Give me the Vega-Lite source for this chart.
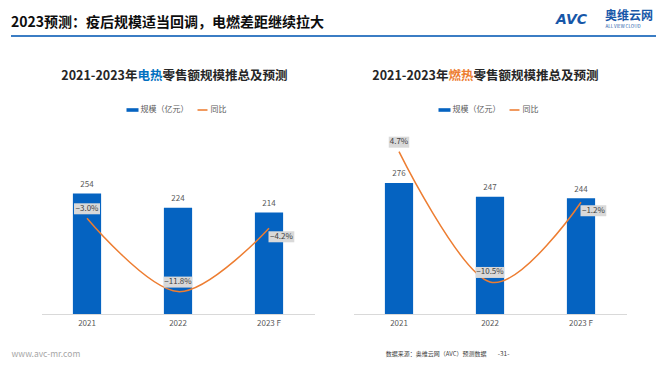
{
  "$schema": "https://vega.github.io/schema/vega-lite/v6.json",
  "padding": {"left": 10, "right": 10, "top": 0, "bottom": 0},
  "background": "white",
  "config": {"view": {"stroke": null}, "font": "Noto Sans CJK SC", "text": {"font": "Noto Sans CJK SC"}},
  "datasets": {
    "elec": [
      {"year": "2021", "amount": 254, "yoy": -0.030},
      {"year": "2022", "amount": 224, "yoy": -0.118},
      {"year": "2023 F", "amount": 214, "yoy": -0.042}
    ],
    "gas": [
      {"year": "2021", "amount": 276, "yoy": 0.047},
      {"year": "2022", "amount": 247, "yoy": -0.105},
      {"year": "2023 F", "amount": 244, "yoy": -0.012}
    ]
  },
  "center": true,
  "spacing": 0,
  "resolve": {"scale": {"color": "independent"}, "legend": {"color": "independent"}},
  "vconcat": [
    {
      "width": 645, "height": 40,
      "data": {"values": [{}]},
      "layer": [
        {"mark": {"type": "rule", "color": "#3B7DC4", "strokeWidth": 2},
         "encoding": {"x": {"datum": 0, "type": "quantitative", "scale": {"domain": [0, 1]}, "axis": null}, "x2": {"datum": 1},
                      "y": {"datum": 0.1, "type": "quantitative", "scale": {"domain": [0, 1]}, "axis": null}}},
        {"mark": {"type": "text", "text": "2023预测：疫后规模适当回调，电燃差距继续拉大", "align": "left", "baseline": "middle", "fontSize": 14, "fontWeight": "bold", "color": "#0D0D0D"},
         "encoding": {"x": {"datum": 0, "type": "quantitative", "scale": {"domain": [0, 1]}, "axis": null},
                      "y": {"datum": 0.425, "type": "quantitative", "scale": {"domain": [0, 1]}, "axis": null}}},
        {"mark": {"type": "text", "text": "AVC", "align": "left", "baseline": "middle", "fontSize": 14, "fontWeight": "bold", "fontStyle": "italic", "font": "DejaVu Sans", "color": "#1757A8"},
         "encoding": {"x": {"datum": 0.845, "type": "quantitative", "scale": {"domain": [0, 1]}, "axis": null},
                      "y": {"datum": 0.5125, "type": "quantitative", "scale": {"domain": [0, 1]}, "axis": null}}},
        {"mark": {"type": "text", "text": "奥维云网", "align": "right", "baseline": "middle", "fontSize": 12, "fontWeight": "bold", "color": "#1757A8"},
         "encoding": {"x": {"datum": 0.9953, "type": "quantitative", "scale": {"domain": [0, 1]}, "axis": null},
                      "y": {"datum": 0.6, "type": "quantitative", "scale": {"domain": [0, 1]}, "axis": null}}},
        {"mark": {"type": "text", "text": "ALL VIEW CLOUD", "align": "center", "baseline": "middle", "fontSize": 4.5, "color": "#1757A8"},
         "encoding": {"x": {"datum": 0.9488, "type": "quantitative", "scale": {"domain": [0, 1]}, "axis": null},
                      "y": {"datum": 0.32, "type": "quantitative", "scale": {"domain": [0, 1]}, "axis": null}}}
      ]
    },
    {
      "hconcat": [
        {
          "vconcat": [
            {
              "width": 273, "height": 90,
              "data": {"values": [{}]},
              "layer": [
                {"mark": {"type": "text", "text": "2021-2023年", "align": "right", "baseline": "middle", "dx": -40.5, "fontSize": 12.5, "fontWeight": "bold", "color": "#262626"},
                 "encoding": {"x": {"datum": 0.5, "type": "quantitative", "scale": {"domain": [0, 1]}, "axis": null},
                              "y": {"datum": 0.6, "type": "quantitative", "scale": {"domain": [0, 1]}, "axis": null}}},
                {"mark": {"type": "text", "text": "电热", "align": "left", "baseline": "middle", "dx": -40.5, "fontSize": 12.5, "fontWeight": "bold", "color": "#0070C0"},
                 "encoding": {"x": {"datum": 0.5, "type": "quantitative", "scale": {"domain": [0, 1]}, "axis": null},
                              "y": {"datum": 0.6, "type": "quantitative", "scale": {"domain": [0, 1]}, "axis": null}}},
                {"mark": {"type": "text", "text": "零售额规模推总及预测", "align": "left", "baseline": "middle", "dx": -15.5, "fontSize": 12.5, "fontWeight": "bold", "color": "#262626"},
                 "encoding": {"x": {"datum": 0.5, "type": "quantitative", "scale": {"domain": [0, 1]}, "axis": null},
                              "y": {"datum": 0.6, "type": "quantitative", "scale": {"domain": [0, 1]}, "axis": null}}}
              ]
            },
            {
              "width": 273, "height": 184,
              "data": {"name": "elec"},
              "encoding": {"x": {"field": "year", "type": "nominal", "sort": null, "scale": {"paddingInner": 0.69, "paddingOuter": 0.345},
                                 "axis": {"title": null, "labelAngle": 0, "ticks": false, "domainColor": "#D9D9D9", "labelColor": "#595959", "labelFontSize": 8, "labelPadding": 5, "grid": false}}},
              "layer": [
                {
                  "encoding": {"y": {"field": "amount", "type": "quantitative", "scale": {"domain": [0, 387.5], "nice": false}, "axis": null}},
                  "layer": [
                    {"mark": {"type": "bar"},
                     "encoding": {"color": {"datum": "规模（亿元）", "type": "nominal",
                       "scale": {"domain": ["规模（亿元）", "同比"], "range": ["#0563C1", "#ED7D31"]},
                       "legend": {"orient": "none", "legendX": 85, "legendY": -26, "direction": "horizontal", "title": null,
                         "labelFontSize": 8, "labelColor": "#595959", "labelOffset": 2, "columnPadding": 8, "symbolSize": 144, "symbolStrokeWidth": 0,
                         "encode": {"symbols": {"update": {
                           "shape": {"signal": "datum.value === '同比' ? 'M-0.83,-0.13H0.83V0.13H-0.83Z' : 'M-1,-0.3H1V0.3H-1Z'"},
                           "fill": {"signal": "datum.value === '同比' ? '#ED7D31' : '#0563C1'"},
                           "stroke": {"value": "transparent"}, "opacity": {"value": 1}}}}}}}},
                    {"mark": {"type": "text", "dy": -8.5, "fontSize": 8, "color": "#595959"},
                     "encoding": {"text": {"field": "amount", "type": "quantitative"}}}
                  ]
                },
                {
                  "encoding": {"y": {"field": "yoy", "type": "quantitative", "scale": {"domain": [-0.1449, 0.076], "nice": false, "zero": false}, "axis": null}},
                  "layer": [
                    {"mark": {"type": "line", "interpolate": "cardinal", "strokeWidth": 1.5},
                     "encoding": {"color": {"datum": "同比", "type": "nominal"}}},
                    {"transform": [{"filter": "datum.year !== '2023 F'"}],
                     "mark": {"type": "point", "filled": true, "opacity": 1, "color": "#D9D9D9", "size": 144, "strokeWidth": 0},
                     "encoding": {"shape": {"condition": [
                       {"test": "datum.yoy >= 0", "value": "M-1.708,-2.5H1.708V-0.667H-1.708Z"},
                       {"test": "abs(datum.yoy) >= 0.1", "value": "M-2.375,-2.5H2.375V-0.667H-2.375Z"}],
                       "value": "M-2.167,-2.5H2.167V-0.667H-2.167Z"}}},
                    {"transform": [{"filter": "datum.year === '2023 F'"}],
                     "mark": {"type": "point", "filled": true, "opacity": 1, "color": "#D9D9D9", "size": 144, "strokeWidth": 0, "shape": "M-0.083,0.5H4.217V2.333H-0.083Z"},
                     "encoding": {}},
                    {"transform": [{"filter": "datum.year !== '2023 F'"}],
                     "mark": {"type": "text", "dy": -9.5, "fontSize": 8, "color": "#404040"},
                     "encoding": {"text": {"field": "yoy", "type": "quantitative", "format": ".1%"}}},
                    {"transform": [{"filter": "datum.year === '2023 F'"}],
                     "mark": {"type": "text", "dx": 12.4, "dy": 8.5, "fontSize": 8, "color": "#404040"},
                     "encoding": {"text": {"field": "yoy", "type": "quantitative", "format": ".1%"}}}
                  ]
                }
              ],
              "resolve": {"scale": {"y": "independent"}}
            }
          ],
          "spacing": 0,
          "bounds": "flush",
          "resolve": {"scale": {"color": "independent"}, "legend": {"color": "independent"}}
        },
        {
          "vconcat": [
            {
              "width": 273, "height": 90,
              "data": {"values": [{}]},
              "layer": [
                {"mark": {"type": "text", "text": "2021-2023年", "align": "right", "baseline": "middle", "dx": -41.5, "fontSize": 12.5, "fontWeight": "bold", "color": "#262626"},
                 "encoding": {"x": {"datum": 0.5, "type": "quantitative", "scale": {"domain": [0, 1]}, "axis": null},
                              "y": {"datum": 0.6, "type": "quantitative", "scale": {"domain": [0, 1]}, "axis": null}}},
                {"mark": {"type": "text", "text": "燃热", "align": "left", "baseline": "middle", "dx": -41.5, "fontSize": 12.5, "fontWeight": "bold", "color": "#ED7D31"},
                 "encoding": {"x": {"datum": 0.5, "type": "quantitative", "scale": {"domain": [0, 1]}, "axis": null},
                              "y": {"datum": 0.6, "type": "quantitative", "scale": {"domain": [0, 1]}, "axis": null}}},
                {"mark": {"type": "text", "text": "零售额规模推总及预测", "align": "left", "baseline": "middle", "dx": -16.5, "fontSize": 12.5, "fontWeight": "bold", "color": "#262626"},
                 "encoding": {"x": {"datum": 0.5, "type": "quantitative", "scale": {"domain": [0, 1]}, "axis": null},
                              "y": {"datum": 0.6, "type": "quantitative", "scale": {"domain": [0, 1]}, "axis": null}}}
              ]
            },
            {
              "width": 273, "height": 184,
              "data": {"name": "gas"},
              "encoding": {"x": {"field": "year", "type": "nominal", "sort": null, "scale": {"paddingInner": 0.69, "paddingOuter": 0.345},
                                 "axis": {"title": null, "labelAngle": 0, "ticks": false, "domainColor": "#D9D9D9", "labelColor": "#595959", "labelFontSize": 8, "labelPadding": 5, "grid": false}}},
              "layer": [
                {
                  "encoding": {"y": {"field": "amount", "type": "quantitative", "scale": {"domain": [0, 387.5], "nice": false}, "axis": null}},
                  "layer": [
                    {"mark": {"type": "bar"},
                     "encoding": {"color": {"datum": "规模（亿元）", "type": "nominal",
                       "scale": {"domain": ["规模（亿元）", "同比"], "range": ["#0563C1", "#ED7D31"]},
                       "legend": {"orient": "none", "legendX": 85, "legendY": -26, "direction": "horizontal", "title": null,
                         "labelFontSize": 8, "labelColor": "#595959", "labelOffset": 2, "columnPadding": 8, "symbolSize": 144, "symbolStrokeWidth": 0,
                         "encode": {"symbols": {"update": {
                           "shape": {"signal": "datum.value === '同比' ? 'M-0.83,-0.13H0.83V0.13H-0.83Z' : 'M-1,-0.3H1V0.3H-1Z'"},
                           "fill": {"signal": "datum.value === '同比' ? '#ED7D31' : '#0563C1'"},
                           "stroke": {"value": "transparent"}, "opacity": {"value": 1}}}}}}}},
                    {"mark": {"type": "text", "dy": -8.5, "fontSize": 8, "color": "#595959"},
                     "encoding": {"text": {"field": "amount", "type": "quantitative"}}}
                  ]
                },
                {
                  "encoding": {"y": {"field": "yoy", "type": "quantitative", "scale": {"domain": [-0.1424, 0.0723], "nice": false, "zero": false}, "axis": null}},
                  "layer": [
                    {"mark": {"type": "line", "interpolate": "cardinal", "strokeWidth": 1.5},
                     "encoding": {"color": {"datum": "同比", "type": "nominal"}}},
                    {"transform": [{"filter": "datum.year !== '2023 F'"}],
                     "mark": {"type": "point", "filled": true, "opacity": 1, "color": "#D9D9D9", "size": 144, "strokeWidth": 0},
                     "encoding": {"shape": {"condition": [
                       {"test": "datum.yoy >= 0", "value": "M-1.708,-2.5H1.708V-0.667H-1.708Z"},
                       {"test": "abs(datum.yoy) >= 0.1", "value": "M-2.375,-2.5H2.375V-0.667H-2.375Z"}],
                       "value": "M-2.167,-2.5H2.167V-0.667H-2.167Z"}}},
                    {"transform": [{"filter": "datum.year === '2023 F'"}],
                     "mark": {"type": "point", "filled": true, "opacity": 1, "color": "#D9D9D9", "size": 144, "strokeWidth": 0, "shape": "M-0.083,0.5H4.217V2.333H-0.083Z"},
                     "encoding": {}},
                    {"transform": [{"filter": "datum.year !== '2023 F'"}],
                     "mark": {"type": "text", "dy": -9.5, "fontSize": 8, "color": "#404040"},
                     "encoding": {"text": {"field": "yoy", "type": "quantitative", "format": ".1%"}}},
                    {"transform": [{"filter": "datum.year === '2023 F'"}],
                     "mark": {"type": "text", "dx": 12.4, "dy": 8.5, "fontSize": 8, "color": "#404040"},
                     "encoding": {"text": {"field": "yoy", "type": "quantitative", "format": ".1%"}}}
                  ]
                }
              ],
              "resolve": {"scale": {"y": "independent"}}
            }
          ],
          "spacing": 0,
          "bounds": "flush",
          "resolve": {"scale": {"color": "independent"}, "legend": {"color": "independent"}}
        }
      ],
      "spacing": 39,
      "resolve": {"scale": {"color": "independent"}, "legend": {"color": "independent"}}
    },
    {
      "width": 645, "height": 44,
      "data": {"values": [{}]},
      "layer": [
        {"mark": {"type": "text", "text": "www.avc-mr.com", "align": "left", "baseline": "middle", "fontSize": 8.5, "color": "#A6A6A6"},
         "encoding": {"x": {"datum": 0, "type": "quantitative", "scale": {"domain": [0, 1]}, "axis": null},
                      "y": {"datum": 0.38, "type": "quantitative", "scale": {"domain": [0, 1]}, "axis": null}}},
        {"mark": {"type": "text", "text": "数据来源：奥维云网（AVC）预测数据", "align": "right", "baseline": "middle", "fontSize": 6, "color": "#404040"},
         "encoding": {"x": {"datum": 0.7364, "type": "quantitative", "scale": {"domain": [0, 1]}, "axis": null},
                      "y": {"datum": 0.38, "type": "quantitative", "scale": {"domain": [0, 1]}, "axis": null}}},
        {"mark": {"type": "text", "text": "-31-", "align": "right", "baseline": "middle", "fontSize": 6.5, "color": "#404040"},
         "encoding": {"x": {"datum": 0.772, "type": "quantitative", "scale": {"domain": [0, 1]}, "axis": null},
                      "y": {"datum": 0.38, "type": "quantitative", "scale": {"domain": [0, 1]}, "axis": null}}}
      ]
    }
  ]
}
